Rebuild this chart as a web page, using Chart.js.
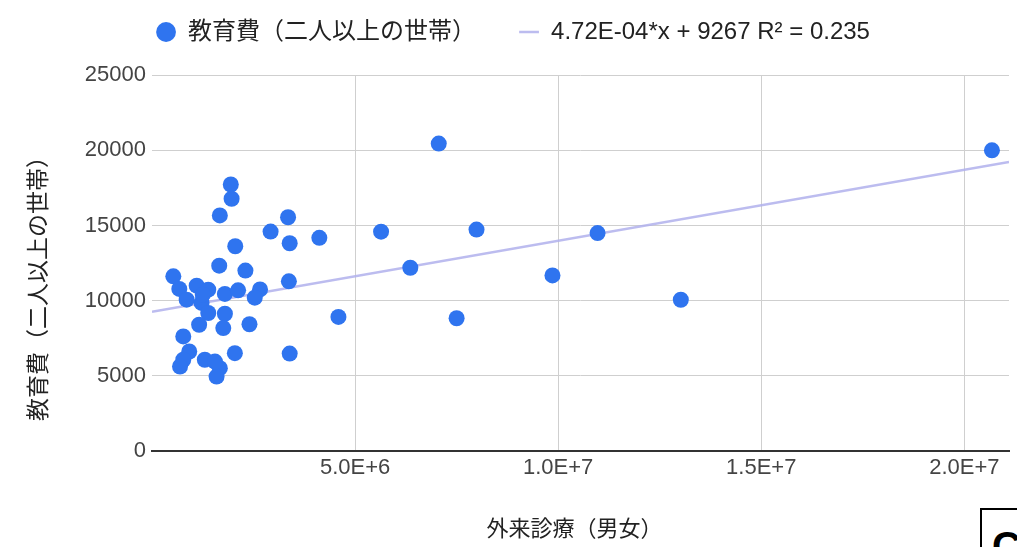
<!DOCTYPE html>
<html lang="ja">
<head>
<meta charset="utf-8">
<title>外来診療と教育費</title>
<script src="https://cdn.jsdelivr.net/npm/chart.js@4.4.1/dist/chart.umd.min.js"></script>
<style>
  html, body { margin: 0; padding: 0; background: #fff; overflow: hidden; }
  #wrap { position: relative; width: 1017px; height: 547px; }
  #chart { position: absolute; left: 0; top: 0; }
  #badge {
    position: absolute; left: 980px; top: 508px; width: 70px; height: 70px;
    border: 2px solid #000; box-sizing: border-box; background: #fff; overflow: hidden;
    font: bold 40px "Liberation Sans", sans-serif; color: #000; padding: 14px 0 0 10px;
  }
</style>
</head>
<body>
<div id="wrap">
  <canvas id="chart" width="1017" height="547"></canvas>
  <div id="badge">C</div>
</div>
<script>
// 外来診療（男女） per prefecture
const outpatient = [
  20680000, 7060000, 13020000, 10970000, 9860000, 7990000, 7500000, 6360000,
  5640000, 4590000, 4120000, 3350000, 2920000, 3390000, 3370000, 3390000,
  2660000, 2530000, 2300000, 2400000, 1940000, 1960000, 1670000, 2050000,
  1655000, 525000, 672000, 1100000, 1385000, 1795000, 2120000, 853000,
  1220000, 1385000, 1795000, 1755000, 1160000, 770000, 917000, 770000,
  690000, 1300000, 1670000, 1590000, 2040000, 1250000, 1550000
];
// 教育費（二人以上の世帯）
const education = [
  20000, 20450, 10060, 14500, 11680, 14730, 8830, 12190,
  14590, 8920, 14180, 15550, 14600, 13820, 11290, 6480,
  10750, 10200, 12000, 8430, 17730, 16780, 15670, 13620,
  12330, 11620, 10780, 11000, 10730, 10450, 10690, 10070,
  9850, 9180, 9130, 8180, 8400, 7620, 6620, 6070,
  5620, 6070, 5510, 4950, 6510, 10400, 5950
];
const yTicks = [0, 5000, 10000, 15000, 20000, 25000];
const xTicks = [5000000, 10000000, 15000000, 20000000];
const xTickLabels = ['5.0E+6', '1.0E+7', '1.5E+7', '2.0E+7'];

// Linear trendline as reported in the legend
const slope = 4.72e-4;
const intercept = 9267;
const rSquared = 0.235;

const xMin = 0, xMax = 21100000;
const seriesName = '教育費（二人以上の世帯）';
const xTitle = '外来診療（男女）';
const yTitle = '教育費（二人以上の世帯）';
const trendLabel = '4.72E-04*x + 9267 R² = ' + rSquared.toFixed(3);

const FONT = '"Liberation Sans", "Noto Sans CJK JP", Arial, sans-serif';

const points = outpatient.map((x, i) => ({ x: x, y: education[i] }));
const trend = [xMin, xMax].map(x => ({ x: x, y: slope * x + intercept }));

// Axis titles drawn beside the plot area
const axisTitles = {
  id: 'axisTitles',
  afterDraw(chart) {
    const { ctx, chartArea } = chart;
    ctx.save();
    ctx.fillStyle = '#222';
    ctx.textAlign = 'center';
    ctx.textBaseline = 'middle';
    ctx.font = '22px ' + FONT;
    ctx.fillText(xTitle, (chartArea.left + chartArea.right) / 2 - 6, 530);
    ctx.font = '23px ' + FONT;
    ctx.translate(40, (chartArea.top + chartArea.bottom) / 2 + 20);
    ctx.rotate(-Math.PI / 2);
    ctx.fillText(yTitle, 0, 0);
    ctx.restore();
  }
};

new Chart(document.getElementById('chart'), {
  data: {
    datasets: [
      {
        type: 'scatter',
        label: seriesName,
        data: points,
        backgroundColor: '#2f74ef',
        borderColor: '#2f74ef',
        borderWidth: 0,
        pointRadius: 8,
        pointHoverRadius: 8,
        pointStyle: 'circle',
        order: 1
      },
      {
        type: 'line',
        label: trendLabel,
        data: trend,
        borderColor: 'rgba(176, 176, 236, 0.85)',
        backgroundColor: 'rgba(176, 176, 236, 0.9)',
        borderWidth: 2.5,
        pointRadius: 0,
        pointStyle: 'line',
        fill: false,
        order: 2
      }
    ]
  },
  options: {
    responsive: false,
    animation: false,
    events: [],
    layout: { padding: { top: -23, right: 7, bottom: 0, left: 16 } },
    plugins: {
      legend: {
        position: 'top',
        weight: 3000,
        labels: {
          usePointStyle: true,
          boxHeight: 14,
          boxWidth: 20,
          padding: 43,
          color: '#222',
          font: { family: FONT, size: 24 }
        }
      },
      // empty spacer between the legend and the plot
      title: {
        display: true,
        text: '',
        weight: 500,
        font: { size: 1 },
        padding: { top: 0, bottom: 20 }
      },
      tooltip: { enabled: false }
    },
    scales: {
      x: {
        type: 'linear',
        min: xMin,
        max: xMax,
        afterBuildTicks(scale) { scale.ticks = xTicks.map(v => ({ value: v })); },
        afterFit(scale) { scale.height = 96; },
        ticks: {
          callback: (v) => xTickLabels[xTicks.indexOf(v)] || '',
          color: '#444',
          font: { family: FONT, size: 22 },
          maxRotation: 0,
          padding: 4
        },
        grid: { color: '#cfcfcf', lineWidth: 1, drawTicks: false },
        border: { display: true, color: '#333', width: 2 }
      },
      y: {
        type: 'linear',
        min: 0,
        max: 25000,
        afterBuildTicks(scale) { scale.ticks = yTicks.map(v => ({ value: v })); },
        afterFit(scale) { scale.width = 136; },
        ticks: {
          callback: (v) => String(v),
          color: '#444',
          font: { family: FONT, size: 22 },
          padding: 6
        },
        grid: { color: '#cfcfcf', lineWidth: 1, drawTicks: false },
        border: { display: false }
      }
    }
  },
  plugins: [axisTitles]
});
</script>
</body>
</html>
